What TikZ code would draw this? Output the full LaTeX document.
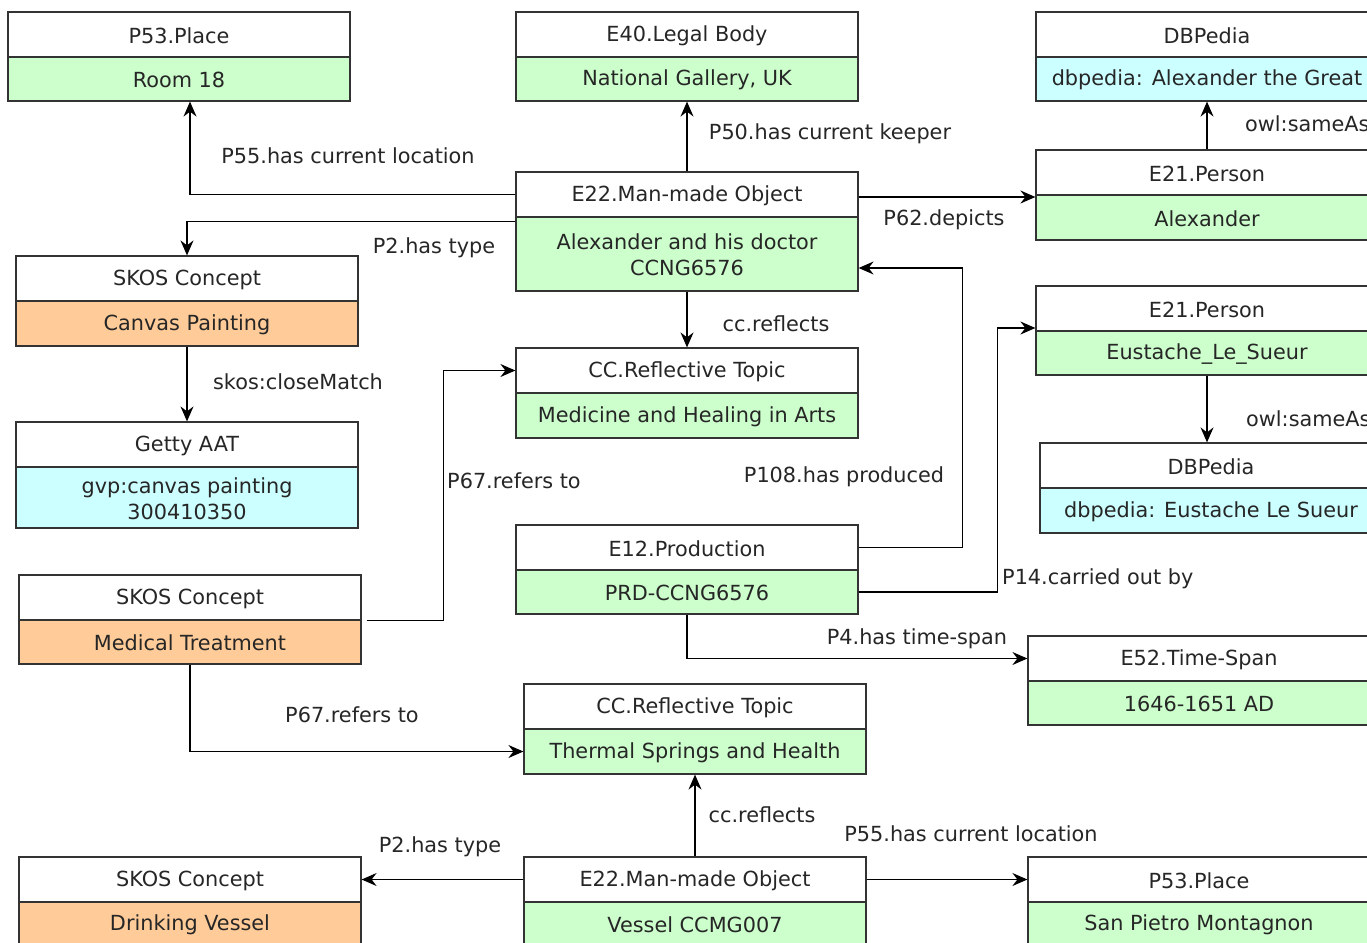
\documentclass[tikz,border=0pt]{standalone}
\usepackage{fontspec}
\setmainfont{DejaVu Sans}
\usetikzlibrary{arrows.meta}
\definecolor{bgreen}{HTML}{CCFFCC}
\definecolor{borange}{HTML}{FFCC99}
\definecolor{bcyan}{HTML}{CCFFFF}
\definecolor{bord}{HTML}{333333}
\newcommand\st{\rule{0pt}{17.5pt}}
\newcommand\umlbox[7]{%
  \node[hdr] (#1h) at (#2,#3+22.5) {\st #6};
  \node[hdr,fill=#5,minimum height=#4pt] (#1b) at (#2,#3+45+#4/2) {\st #7};
}
\begin{document}
\begin{tikzpicture}[x=1pt,y=-1pt,
  every node/.style={font=\fontsize{20.8}{26}\selectfont, inner sep=0pt, align=center, text=black!85},
  hdr/.style={draw=bord, line width=1.2pt, fill=white, minimum width=342pt, minimum height=45pt},
  lbl/.style={},
  arr/.style={-{Stealth[length=15pt,width=13pt,inset=5pt]}, line width=1.2pt, black}]
\useasboundingbox (0,0) rectangle (1367,942);
\clip (0,0) rectangle (1367,942);
\fill[white] (0,0) rectangle (1367,942);

\umlbox{p53a}{179}{12}{44}{bgreen}{P53.Place}{Room 18}
\umlbox{e40}{687}{12}{44}{bgreen}{E40.Legal Body}{National Gallery, UK}
\umlbox{dbpa}{1207}{12}{44}{bcyan}{DBPedia}{dbpedia: Alexander the Great}
\umlbox{e22}{687}{172}{74}{bgreen}{E22.Man-made Object}{Alexander and his doctor\\\st CCNG6576}
\umlbox{e21a}{1207}{150}{45}{bgreen}{E21.Person}{Alexander}
\umlbox{skosa}{187}{256}{45}{borange}{SKOS Concept}{Canvas Painting}
\umlbox{cca}{687}{348}{45}{bgreen}{CC.Reflective Topic}{Medicine and Healing in Arts}
\umlbox{e21b}{1207}{286}{44}{bgreen}{E21.Person}{Eustache\_Le\_Sueur}
\umlbox{getty}{187}{422}{61}{bcyan}{Getty AAT}{gvp:canvas painting\\\st 300410350}
\umlbox{dbpb}{1211}{443}{45}{bcyan}{DBPedia}{dbpedia: Eustache Le Sueur}
\umlbox{e12}{687}{525}{44}{bgreen}{E12.Production}{PRD-CCNG6576}
\umlbox{skosb}{190}{575}{44}{borange}{SKOS Concept}{Medical Treatment}
\umlbox{e52}{1199}{636}{44}{bgreen}{E52.Time-Span}{1646-1651 AD}
\umlbox{th}{695}{684}{45}{bgreen}{CC.Reflective Topic}{Thermal Springs and Health}
\umlbox{skosc}{190}{857}{44}{borange}{SKOS Concept}{Drinking Vessel}
\umlbox{v}{695}{857}{44}{bgreen}{E22.Man-made Object}{Vessel CCMG007}
\umlbox{p53b}{1199}{857}{44}{bgreen}{P53.Place}{San Pietro Montagnon}

% connectors
\draw[arr] (e22h.west) -| ([xshift=11pt]p53ab.south);
\draw[arr] ([yshift=-5pt]e22b.north west) -| (skosah.north);
\draw[arr] (e22h.north) -- (e40b.south);
\draw[arr] ([yshift=-2.5pt]e22h.east) -- ([yshift=-2.5pt]e22h.east -| e21ah.west);
\draw[arr] (e21ah.north) -- (dbpab.south);
\draw[arr] (e22b.south) -- (ccah.north);
\draw[arr] (skosab.south) -- (gettyh.north);
\draw[arr] ([xshift=5pt,yshift=-1pt]skosbb.north east) -- ++(77,0) |- (ccah.west);
\draw[arr] (e12h.east) -- ++(104,0) |- ([yshift=-14pt]e22b.east);
\draw[arr] (e12b.east) -- ++(139,0) |- ([yshift=-19.5pt]e21bh.west);
\draw[arr] (e21bb.south) -- (e21bb.south |- dbpbh.north);
\draw[arr] (e12b.south) |- (e52h.west);
\draw[arr] (skosbb.south) |- (thb.west);
\draw[arr] (vh.north) -- (thb.south);
\draw[arr] (vh.west) -- (skosch.east);
\draw[arr] (vh.east) -- (p53bh.west);

% labels
\node[lbl] (l1) at (348,155) {\st P55.has current location};
\node[lbl] (l2) at (434,247) {\st P2.has type};
\node[lbl] (l3) at (830,133) {\st P50.has current keeper};
\node[lbl] (l4) at (944,219) {\st P62.depicts};
\node[lbl,anchor=west] (l5) at (1245,123) {\st owl:sameAs};
\node[lbl] (l6) at (776,323) {\st cc.reflects};
\node[lbl] (l7) at (298,381) {\st skos:closeMatch};
\node[lbl] (l8) at (514,480) {\st P67.refers to};
\node[lbl] (l9) at (844,476) {\st P108.has produced};
\node[lbl,anchor=west] (l10) at (1002,578) {\st P14.carried out by};
\node[lbl,anchor=west] (l11) at (1246,418) {\st owl:sameAs};
\node[lbl] (l12) at (917,638) {\st P4.has time-span};
\node[lbl] (l13) at (352,714) {\st P67.refers to};
\node[lbl] (l14) at (762,814) {\st cc.reflects};
\node[lbl] (l15) at (440,846) {\st P2.has type};
\node[lbl] (l16) at (971,833) {\st P55.has current location};
\end{tikzpicture}
\end{document}
